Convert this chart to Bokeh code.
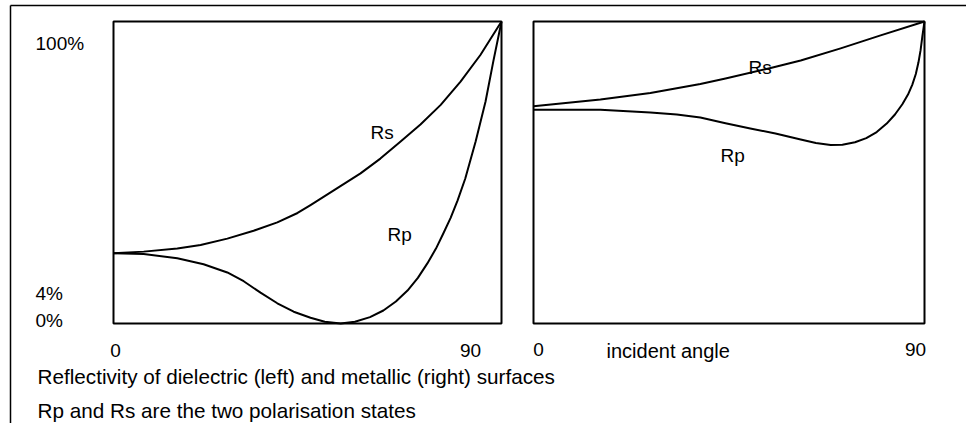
from bokeh.plotting import figure
from bokeh.models import Range1d, Label
from bokeh.embed import file_html
from bokeh.resources import INLINE

# ---------------- data ----------------
# incident angle in degrees, reflectivity as share of the panel height (%)
diel_rs_angle = [0.0, 7.0, 14.8, 20.2, 26.4, 32.5, 38.0, 42.7, 45.7, 51.0, 57.3, 61.9, 66.6, 71.2, 75.9, 80.5, 85.1, 90.0]
diel_rs = [23.3, 23.8, 24.8, 26.0, 28.1, 30.7, 33.5, 36.6, 39.2, 44.0, 49.7, 54.6, 60.3, 65.9, 72.4, 80.1, 88.9, 100.0]

diel_rp_angle = [0.0, 7.0, 14.8, 20.9, 26.4, 30.2, 34.1, 38.0, 41.8, 45.7, 49.0, 52.7, 56.0, 59.5, 62.6, 65.5, 68.2, 70.6, 72.8, 74.8, 76.5, 78.2, 79.8, 81.6, 84.0, 86.3, 88.1, 90.0]
diel_rp = [23.3, 23.0, 21.6, 19.6, 16.9, 14.0, 10.2, 6.7, 3.9, 1.9, 0.6, 0.0, 0.6, 2.1, 4.3, 7.3, 10.9, 15.1, 19.9, 24.8, 29.8, 35.0, 40.7, 48.0, 60.3, 73.5, 86.8, 100.0]

metal_rs_angle = [0.0, 15.4, 26.9, 38.4, 44.2, 54.6, 61.5, 70.7, 79.9, 90.0]
metal_rs = [71.9, 74.2, 76.3, 79.3, 81.1, 84.6, 87.1, 91.1, 95.4, 100.0]

metal_rp_angle = [0.0, 15.4, 26.9, 33.0, 38.4, 44.2, 49.9, 55.7, 61.5, 65.0, 68.4, 71.1, 74.0, 76.6, 79.0, 81.3, 83.2, 84.9, 86.2, 87.2, 88.0, 88.6, 89.1, 89.5, 90.0]
metal_rp = [70.8, 70.8, 69.9, 69.2, 68.2, 66.3, 64.6, 62.9, 60.9, 59.8, 59.1, 59.2, 60.0, 61.4, 63.4, 66.2, 69.2, 72.6, 75.8, 79.1, 82.6, 86.4, 90.5, 95.0, 100.0]

angle_min, angle_max = 0, 90
refl_min, refl_max = 0, 100
x_ticks = [0, 90]
x_tick_labels = ["0", "90"]
y_tick_labels = ["100%", "4%", "0%"]
curve_names = ["Rs", "Rp"]
axis_title = "incident angle"
caption_lines = [
    "Reflectivity of dielectric (left) and metallic (right) surfaces",
    "Rp and Rs are the two polarisation states",
]

# ---------------- layout (canvas pixels) ----------------
W, H = 966, 423
L_X0, L_X1 = 113, 501      # left panel: angle 0 .. 90
R_X0, R_X1 = 533, 924      # right panel: angle 0 .. 90
Y0, Y1 = 323, 21           # 0 % .. 100 %

sx_l = (L_X1 - L_X0) / (angle_max - angle_min)
sx_r = (R_X1 - R_X0) / (angle_max - angle_min)
sy = (Y0 - Y1) / (refl_max - refl_min)

def lx(px):
    return angle_min + (px - L_X0) / sx_l

def rx(px):
    return angle_min + (px - R_X0) / sx_r

def yy(py):
    return refl_min + (Y0 - py) / sy

FONT = "Liberation Sans"
INK = "#000000"

p = figure(width=W, height=H, output_backend="svg", toolbar_location=None,
           x_range=Range1d(lx(0), lx(W)), y_range=Range1d(yy(H), yy(0)),
           x_axis_location=None, y_axis_location=None,
           min_border=0, min_border_left=0, min_border_right=0,
           min_border_top=0, min_border_bottom=0,
           outline_line_color=None, background_fill_color="white",
           border_fill_color="white")
p.grid.visible = False
p.extra_x_ranges = {"metal": Range1d(rx(0), rx(W))}

# outer frame (left and top rules)
p.segment(x0=[lx(10), lx(10)], y0=[yy(5), yy(5)], x1=[lx(10), lx(966)], y1=[yy(423), yy(5)],
          line_color=INK, line_width=1.5)

# panel boxes
p.quad(left=[angle_min], right=[angle_max], bottom=[refl_min], top=[refl_max],
       fill_color=None, line_color=INK, line_width=2)
p.quad(left=[angle_min], right=[angle_max], bottom=[refl_min], top=[refl_max],
       fill_color=None, line_color=INK, line_width=2, x_range_name="metal")

# curves
for xs, ys, rng in [(diel_rs_angle, diel_rs, "default"), (diel_rp_angle, diel_rp, "default"),
                    (metal_rs_angle, metal_rs, "metal"), (metal_rp_angle, metal_rp, "metal")]:
    p.line(xs, ys, line_color=INK, line_width=2, line_join="round", x_range_name=rng)

def label(text, x, y, size, align="left", rng="default"):
    p.add_layout(Label(x=x, y=y, text=text, text_font=FONT, text_font_size=f"{size}px",
                       text_color=INK, text_align=align, text_baseline="alphabetic",
                       x_range_name=rng))

LBL = 19
CAP = 20.7
# y labels
label(y_tick_labels[0], lx(35), yy(43), LBL)
label(y_tick_labels[1], lx(35), yy(293), LBL)
label(y_tick_labels[2], lx(35), yy(320), LBL)
# x tick labels
label(x_tick_labels[0], x_ticks[0] + 2 / sx_l, yy(350), LBL, "center")
label(x_tick_labels[1], x_ticks[1] - 31 / sx_l, yy(350), LBL, "center")
label(x_tick_labels[0], x_ticks[0] + 5 / sx_r, yy(349), LBL, "center", "metal")
label(x_tick_labels[1], x_ticks[1] - 9 / sx_r, yy(349), LBL, "center", "metal")
label(axis_title, rx(606), yy(350), LBL + 1, "left", "metal")
# curve names
label(curve_names[0], lx(370), yy(132), LBL)
label(curve_names[1], lx(387), yy(234), LBL)
label(curve_names[0], rx(748), yy(67), LBL, "left", "metal")
label(curve_names[1], rx(720), yy(155), LBL, "left", "metal")
# caption
label(caption_lines[0], lx(37), yy(376), CAP)
label(caption_lines[1], lx(37), yy(410), CAP)

open("out.html", "w").write(file_html(p, INLINE))
